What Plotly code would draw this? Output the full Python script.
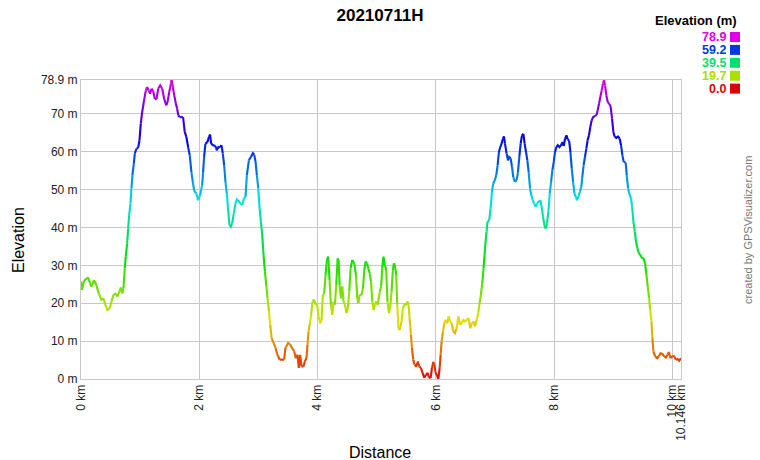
import colorsys
import plotly.graph_objects as go

# ---- data ----
distance_km = [
    0.000, 0.017, 0.051, 0.119, 0.153, 0.175, 0.220, 0.260, 0.299, 0.345, 0.379, 0.412, 0.446, 0.486, 0.514,
    0.548, 0.582, 0.616, 0.650, 0.672, 0.701, 0.718, 0.740, 0.757, 0.780, 0.797, 0.814, 0.836, 0.853, 0.870,
    0.893, 0.910, 0.938, 0.966, 0.989, 1.011, 1.034, 1.062, 1.096, 1.119, 1.147, 1.169, 1.192, 1.220, 1.249,
    1.277, 1.305, 1.339, 1.373, 1.407, 1.441, 1.463, 1.492, 1.520, 1.531, 1.554, 1.582, 1.605, 1.627, 1.644,
    1.669, 1.726, 1.754, 1.782, 1.811, 1.839, 1.867, 1.890, 1.912, 1.952, 1.980, 2.014, 2.048, 2.065, 2.082,
    2.104, 2.138, 2.166, 2.183, 2.200, 2.234, 2.274, 2.296, 2.325, 2.353, 2.375, 2.398, 2.421, 2.443, 2.466,
    2.488, 2.511, 2.534, 2.556, 2.584, 2.613, 2.635, 2.669, 2.698, 2.726, 2.754, 2.782, 2.805, 2.839, 2.873,
    2.907, 2.929, 2.952, 2.974, 2.997, 3.020, 3.042, 3.065, 3.087, 3.110, 3.133, 3.155, 3.178, 3.200, 3.223,
    3.257, 3.291, 3.313, 3.333, 3.361, 3.435, 3.457, 3.502, 3.536, 3.570, 3.604, 3.632, 3.661, 3.683, 3.706,
    3.729, 3.762, 3.785, 3.813, 3.830, 3.847, 3.870, 3.892, 3.915, 3.943, 3.971, 3.994, 4.017, 4.045, 4.067,
    4.090, 4.113, 4.135, 4.158, 4.180, 4.203, 4.226, 4.248, 4.271, 4.293, 4.316, 4.339, 4.356, 4.373, 4.395,
    4.418, 4.440, 4.463, 4.491, 4.514, 4.536, 4.559, 4.587, 4.621, 4.649, 4.672, 4.689, 4.712, 4.745, 4.768,
    4.791, 4.813, 4.836, 4.859, 4.881, 4.904, 4.926, 4.949, 4.972, 4.994, 5.017, 5.053, 5.076, 5.093, 5.115,
    5.138, 5.161, 5.183, 5.206, 5.228, 5.251, 5.274, 5.291, 5.307, 5.330, 5.347, 5.370, 5.392, 5.420, 5.443,
    5.466, 5.494, 5.522, 5.539, 5.556, 5.579, 5.596, 5.618, 5.641, 5.669, 5.697, 5.720, 5.748, 5.776, 5.805,
    5.833, 5.861, 5.884, 5.912, 5.935, 5.957, 5.974, 5.997, 6.019, 6.042, 6.065, 6.081, 6.098, 6.121, 6.144,
    6.166, 6.194, 6.217, 6.240, 6.268, 6.296, 6.324, 6.353, 6.381, 6.409, 6.437, 6.466, 6.494, 6.522, 6.550,
    6.584, 6.607, 6.635, 6.663, 6.692, 6.717, 6.740, 6.762, 6.785, 6.807, 6.824, 6.841, 6.858, 6.875, 6.903,
    6.926, 6.949, 6.971, 6.999, 7.022, 7.045, 7.067, 7.090, 7.112, 7.135, 7.152, 7.169, 7.197, 7.220, 7.242,
    7.265, 7.288, 7.310, 7.338, 7.367, 7.389, 7.412, 7.435, 7.457, 7.480, 7.502, 7.525, 7.548, 7.570, 7.593,
    7.615, 7.638, 7.666, 7.689, 7.711, 7.740, 7.768, 7.790, 7.813, 7.836, 7.858, 7.881, 7.903, 7.926, 7.949,
    7.971, 7.994, 8.016, 8.039, 8.062, 8.090, 8.118, 8.141, 8.163, 8.186, 8.209, 8.231, 8.254, 8.276, 8.299,
    8.321, 8.344, 8.367, 8.389, 8.409, 8.437, 8.460, 8.477, 8.499, 8.522, 8.545, 8.567, 8.590, 8.612, 8.635,
    8.658, 8.691, 8.720, 8.737, 8.759, 8.782, 8.804, 8.827, 8.844, 8.861, 8.884, 8.906, 8.934, 8.957, 8.980,
    9.002, 9.025, 9.053, 9.081, 9.110, 9.132, 9.155, 9.177, 9.211, 9.228, 9.251, 9.273, 9.302, 9.319, 9.341,
    9.364, 9.386, 9.409, 9.432, 9.460, 9.482, 9.516, 9.539, 9.562, 9.584, 9.607, 9.624, 9.646, 9.663, 9.680,
    9.708, 9.742, 9.771, 9.799, 9.833, 9.861, 9.889, 9.918, 9.940, 9.968, 9.997, 10.031, 10.059, 10.087, 10.115,
    10.146,
]
elevation_m = [
    25.7, 23.5, 25.9, 26.8, 25.3, 24.4, 26.1, 24.8, 22.6, 20.9, 21.3, 19.6, 18.2, 18.7, 20.4,
    22.2, 22.5, 21.8, 23.1, 24.1, 22.6, 24.0, 29.2, 32.3, 35.8, 39.7, 43.2, 46.3, 50.3, 53.8,
    56.8, 59.5, 60.8, 61.0, 63.0, 67.4, 70.4, 73.1, 76.1, 77.0, 76.1, 75.3, 76.6, 76.0, 73.9,
    73.8, 76.6, 77.5, 76.6, 73.9, 72.2, 73.1, 75.7, 77.9, 78.9, 77.0, 74.4, 72.6, 71.3, 69.6,
    69.1, 69.1, 65.2, 63.9, 61.2, 59.0, 54.6, 52.0, 49.8, 48.9, 47.2, 48.5, 51.1, 54.6, 58.6,
    62.1, 62.5, 64.0, 64.5, 62.1, 61.7, 61.5, 60.4, 61.2, 61.2, 61.7, 59.5, 56.4, 52.0, 48.9,
    44.6, 40.6, 40.2, 41.1, 43.7, 46.3, 47.4, 46.9, 46.3, 45.9, 47.6, 48.1, 53.8, 57.7, 58.6,
    59.6, 59.2, 57.3, 53.8, 50.3, 45.0, 41.5, 38.0, 32.7, 28.3, 24.8, 21.3, 17.8, 14.3, 10.8,
    9.5, 8.2, 6.8, 6.0, 5.1, 5.1, 8.2, 9.5, 9.2, 8.2, 7.3, 5.5, 6.4, 2.9, 6.4,
    3.3, 3.3, 4.6, 5.5, 9.0, 12.5, 14.7, 16.9, 20.4, 20.9, 19.6, 19.7, 16.5, 14.7, 15.6,
    22.2, 22.6, 27.5, 31.4, 32.3, 26.1, 19.6, 16.9, 20.4, 19.6, 24.8, 31.8, 31.4, 24.8, 21.3,
    24.4, 20.4, 19.6, 17.4, 18.7, 23.1, 29.2, 31.4, 30.5, 27.5, 21.3, 20.0, 22.2, 22.2, 24.0,
    28.8, 31.0, 30.5, 29.2, 27.9, 25.7, 20.4, 18.2, 20.0, 20.4, 19.6, 23.1, 24.4, 29.2, 32.3,
    30.1, 28.8, 20.4, 17.4, 18.7, 23.1, 28.8, 30.5, 30.1, 27.5, 19.6, 13.4, 13.0, 15.2, 18.7,
    19.6, 19.6, 20.4, 19.6, 16.1, 11.7, 8.2, 5.1, 3.8, 3.3, 4.6, 3.3, 2.9, 1.6, 0.3,
    1.1, 1.6, 0.4, 0.3, 2.9, 4.5, 3.8, 1.6, 1.1, 0.0, 2.9, 6.4, 9.9, 12.5, 14.7,
    15.6, 14.7, 16.5, 15.2, 14.7, 12.5, 12.1, 13.4, 16.5, 14.3, 14.7, 15.6, 15.2, 15.6, 16.1,
    13.4, 14.7, 15.2, 13.9, 15.6, 17.5, 20.0, 22.2, 25.3, 29.2, 32.7, 36.2, 38.9, 41.5, 41.9,
    45.0, 49.4, 51.6, 52.5, 53.8, 56.4, 59.9, 61.2, 62.1, 63.4, 64.0, 62.1, 59.5, 57.7, 58.6,
    58.2, 56.0, 53.3, 52.0, 52.5, 54.6, 58.6, 62.1, 64.3, 64.7, 62.1, 59.9, 57.7, 54.6, 50.3,
    48.5, 47.2, 46.3, 45.4, 46.3, 46.9, 47.2, 45.4, 42.8, 40.6, 39.7, 41.1, 44.1, 48.9, 52.0,
    55.1, 57.3, 59.9, 61.2, 61.7, 61.2, 61.7, 62.5, 61.5, 63.4, 64.3, 63.2, 62.9, 59.9, 55.5,
    52.0, 48.9, 48.1, 47.2, 48.1, 49.4, 50.7, 53.3, 56.4, 58.6, 60.8, 63.0, 64.3, 66.5, 68.2,
    69.1, 69.4, 69.7, 70.9, 72.6, 74.4, 76.1, 77.9, 78.9, 77.5, 74.8, 73.1, 72.6, 71.8, 68.7,
    65.2, 63.9, 63.6, 64.0, 63.4, 61.7, 59.0, 57.3, 57.1, 53.8, 50.3, 48.9, 47.6, 45.4, 41.5,
    38.9, 36.2, 34.5, 33.2, 32.7, 32.0, 31.8, 30.5, 27.5, 24.4, 21.3, 18.2, 15.2, 10.8, 7.3,
    6.0, 5.5, 6.0, 6.8, 6.6, 6.0, 5.7, 6.4, 7.1, 5.5, 6.0, 6.0, 5.1, 5.3, 4.8,
    5.5,
]

x_tick_vals = [0, 2, 4, 6, 8, 10, 10.146]
x_tick_text = ["0 km", "2 km", "4 km", "6 km", "8 km", "10 km", "10.146 km"]
y_tick_vals = [0, 10, 20, 30, 40, 50, 60, 70, 78.9]
y_tick_text = ["0 m", "10 m", "20 m", "30 m", "40 m", "50 m", "60 m", "70 m", "78.9 m"]
legend_vals = [78.9, 59.2, 39.5, 19.7, 0.0]

E_MIN, E_MAX = 0.0, 78.9
TITLE = "20210711H"


def elev_color(e):
    t = (e - E_MIN) / (E_MAX - E_MIN)
    t = min(max(t, 0.0), 1.0)
    r, g, b = colorsys.hsv_to_rgb(t * 300.0 / 360.0, 1.0, 0.88)
    return "rgb(%d,%d,%d)" % (round(r * 255), round(g * 255), round(b * 255))


N_BINS = 90


def bin_of(e):
    t = (e - E_MIN) / (E_MAX - E_MIN)
    return min(N_BINS - 1, max(0, int(t * N_BINS)))


# group consecutive segments by colour bin
bins = {}
run_bin = None
run_x, run_y = [], []
for i in range(len(distance_km) - 1):
    b = bin_of((elevation_m[i] + elevation_m[i + 1]) / 2.0)
    if b != run_bin:
        if run_bin is not None:
            bx, by = bins.setdefault(run_bin, ([], []))
            bx.extend(run_x + [None]); by.extend(run_y + [None])
        run_bin = b
        run_x = [distance_km[i]]
        run_y = [elevation_m[i]]
    run_x.append(distance_km[i + 1])
    run_y.append(elevation_m[i + 1])
bx, by = bins.setdefault(run_bin, ([], []))
bx.extend(run_x); by.extend(run_y)

fig = go.Figure()
for b, (xs, ys) in sorted(bins.items()):
    fig.add_trace(go.Scatter(
        x=xs, y=ys, mode="lines",
        line=dict(color=elev_color((b + 0.5) / N_BINS * (E_MAX - E_MIN) + E_MIN), width=2.1),
        hoverinfo="skip", showlegend=False, connectgaps=False,
    ))

FONT = "Liberation Sans, Arial, sans-serif"
fig.update_layout(
    width=760, height=460,
    margin=dict(l=81, r=79, t=80, b=81, autoexpand=False),
    paper_bgcolor="white", plot_bgcolor="white",
    font=dict(family=FONT, size=12, color="#222"),
    title=dict(text="<b>%s</b>" % TITLE, x=0.5, xref="container", xanchor="center",
               y=1 - 15 / 460, yref="container", yanchor="middle",
               font=dict(size=17, color="black", family=FONT)),
    showlegend=False,
)
fig.update_xaxes(
    range=[0, 10.146], tickmode="array", tickvals=x_tick_vals, ticktext=x_tick_text,
    tickangle=-90, showgrid=True, gridcolor="#c8c8c8", gridwidth=1,
    showline=True, linecolor="#c8c8c8", linewidth=1, mirror=True,
    ticks="", zeroline=False, automargin=False,
    tickfont=dict(size=12, color="#222"),
)
fig.update_yaxes(
    range=[0, 78.9], tickmode="array", tickvals=y_tick_vals, ticktext=y_tick_text,
    showgrid=True, gridcolor="#c8c8c8", gridwidth=1,
    showline=True, linecolor="#c8c8c8", linewidth=1, mirror=True,
    ticks="", zeroline=False, automargin=False,
    tickfont=dict(size=12, color="#222"),
)


def px_x(p):
    return (p - 81) / 600.0


def px_y(p):
    return (379 - p) / 299.0


# axis titles
fig.add_annotation(text="Distance", xref="paper", yref="paper",
                   x=px_x(380), y=px_y(452), xanchor="center", yanchor="middle",
                   showarrow=False, font=dict(size=16, color="black", family=FONT))
fig.add_annotation(text="Elevation", xref="paper", yref="paper",
                   x=px_x(18), y=px_y(240), xanchor="center", yanchor="middle",
                   textangle=-90, showarrow=False,
                   font=dict(size=16, color="black", family=FONT))

# legend (colour scale key)
fig.add_annotation(text="<b>Elevation (m)</b>", xref="paper", yref="paper",
                   x=px_x(739), y=px_y(21), xanchor="right", yanchor="middle",
                   showarrow=False, font=dict(size=13, color="black", family=FONT))
for k, v in enumerate(legend_vals):
    cy = 37 + k * 12.9
    col = elev_color(v)
    fig.add_annotation(text="<b>%.1f</b>" % v, xref="paper", yref="paper",
                       x=px_x(727), y=px_y(cy), xanchor="right", yanchor="middle",
                       showarrow=False, borderpad=0, height=12,
                       font=dict(size=12.5, color=col, family=FONT))
    fig.add_shape(type="rect", xref="paper", yref="paper",
                  x0=px_x(730), x1=px_x(740), y0=px_y(cy + 5), y1=px_y(cy - 5),
                  fillcolor=col, line=dict(width=0))

fig.add_annotation(text="created by GPSVisualizer.com", xref="paper", yref="paper",
                   x=px_x(748), y=px_y(230), xanchor="center", yanchor="middle",
                   textangle=-90, showarrow=False,
                   font=dict(size=11, color="#777", family=FONT))

fig.write_html("out.html", config={"displayModeBar": False},
               post_script="document.body.style.margin='0px';document.body.style.overflow='hidden';")
